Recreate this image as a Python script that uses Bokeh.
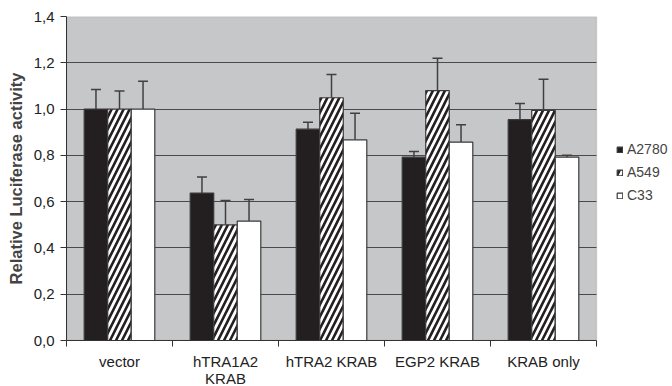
import numpy as np
from bokeh.plotting import figure
from bokeh.models import (ColumnDataSource, FixedTicker, CustomJSTickFormatter, Whisker,
                          TeeHead, Legend, LegendItem, Range1d, BoxAnnotation)
from bokeh.embed import file_html
from bokeh.resources import INLINE

categories = ["vector", "hTRA1A2\nKRAB", "hTRA2 KRAB", "EGP2 KRAB", "KRAB only"]
series = ["A2780", "A549", "C33"]
a2780 = [1.0, 0.637, 0.913, 0.792, 0.954]
a2780_err = [0.085, 0.070, 0.030, 0.025, 0.070]
a549 = [1.0, 0.500, 1.049, 1.080, 0.994]
a549_err = [0.078, 0.105, 0.100, 0.140, 0.135]
c33 = [1.0, 0.516, 0.867, 0.857, 0.792]
c33_err = [0.120, 0.093, 0.115, 0.075, 0.008]
y_ticks = [0.0, 0.2, 0.4, 0.6, 0.8, 1.0, 1.2, 1.4]

FONT = "Liberation Sans"
BAR_W = 0.222
X0, X1 = 0.5, len(categories) + 0.5
PLOT_W = 530          # width of the grey plot area in px
LEG_W = 76            # room on the right for the legend
x_end = X1 + (X1 - X0) * LEG_W / PLOT_W

p = figure(frame_width=PLOT_W + LEG_W, frame_height=324, output_backend="svg", toolbar_location=None,
           x_range=Range1d(X0, x_end), y_range=Range1d(0, 1.4),
           min_border_left=66, min_border_top=16, min_border_bottom=46, min_border_right=0)
p.background_fill_color = "white"
p.border_fill_color = "white"
p.outline_line_color = None

plot_area = BoxAnnotation(left=X0, right=X1, bottom=0, top=1.4, fill_color="#c6c7c9", fill_alpha=1,
                          line_color="#8a8a8a", line_width=1.5, level="image")
p.add_layout(plot_area)

base = np.arange(1, len(categories) + 1)
specs = [
    (a2780, a2780_err, -BAR_W, dict(fill_color="#231f20")),
    (a549, a549_err, 0.0, dict(fill_color="white", hatch_pattern="/", hatch_color="#231f20",
                               hatch_scale=12, hatch_weight=2.6)),
    (c33, c33_err, BAR_W, dict(fill_color="white")),
]
renderers = []
for vals, errs, off, style in specs:
    xs = base + off
    top = np.array(vals)
    src = ColumnDataSource(dict(x=xs, top=top, upper=top + np.array(errs)))
    r = p.vbar(x="x", top="top", bottom=0, width=BAR_W, source=src,
               line_color="#3a3a3a", line_width=1.2, **style)
    renderers.append(r)
    w = Whisker(base="x", upper="upper", lower="top", source=src, dimension="height",
                line_color="#404040", line_width=1.5,
                upper_head=TeeHead(size=10, line_color="#404040", line_width=1.5),
                lower_head=None)
    p.add_layout(w)

# grid lines limited to the grey plot area
p.xgrid.visible = False
ygrid = p.ygrid[0]
if "cross_bounds" in ygrid.properties():
    ygrid.ticker = FixedTicker(ticks=y_ticks)
    ygrid.cross_bounds = (X0, X1)
    ygrid.grid_line_color = "#4a4a4a"
    ygrid.grid_line_width = 1.2
else:
    ygrid.visible = False
    p.segment(x0=X0, x1=X1, y0=y_ticks[1:-1], y1=y_ticks[1:-1], line_color="#4a4a4a",
              line_width=1.2, level="underlay")

# y axis
p.yaxis.ticker = FixedTicker(ticks=y_ticks)
p.yaxis.formatter = CustomJSTickFormatter(code="return tick.toFixed(1).replace('.', ',');")
p.yaxis.axis_label = "Relative Luciferase activity"
p.yaxis.axis_label_text_font = FONT
p.yaxis.axis_label_text_font_style = "bold"
p.yaxis.axis_label_text_font_size = "16.5px"
p.yaxis.axis_label_standoff = 6
p.yaxis.major_label_text_font = FONT
p.yaxis.major_label_text_font_size = "15px"
p.yaxis.major_label_text_color = "#222222"
p.yaxis.major_label_standoff = 6
p.yaxis.major_tick_out = 6
p.yaxis.major_tick_in = 0
p.yaxis.minor_tick_line_color = None
p.yaxis.axis_line_color = "#333333"
p.yaxis.major_tick_line_color = "#333333"

# x axis
p.xaxis.ticker = FixedTicker(ticks=list(base), minor_ticks=list(np.arange(X0, X1 + 0.01, 1.0)))
p.xaxis.bounds = (X0, X1)
p.xaxis.major_label_overrides = {int(i): c for i, c in zip(base, categories)}
p.xaxis.major_tick_line_color = None
p.xaxis.minor_tick_out = 6
p.xaxis.minor_tick_in = 0
p.xaxis.minor_tick_line_color = "#333333"
p.xaxis.axis_line_color = "#333333"
p.xaxis.major_label_text_font = FONT
p.xaxis.major_label_text_font_size = "15px"
p.xaxis.major_label_text_line_height = 1.0
p.xaxis.major_label_text_color = "#222222"
p.xaxis.major_label_standoff = 6

legend = Legend(items=[LegendItem(label=s, renderers=[r]) for s, r in zip(series, renderers)],
                location=(PLOT_W + 20, 137), margin=0, padding=0, spacing=7,
                glyph_width=7, glyph_height=7, label_height=14, label_standoff=4,
                label_text_font=FONT, label_text_font_size="14px",
                border_line_color=None, background_fill_alpha=0)
p.add_layout(legend, "center")

open("out.html", "w").write(file_html(p, INLINE))
